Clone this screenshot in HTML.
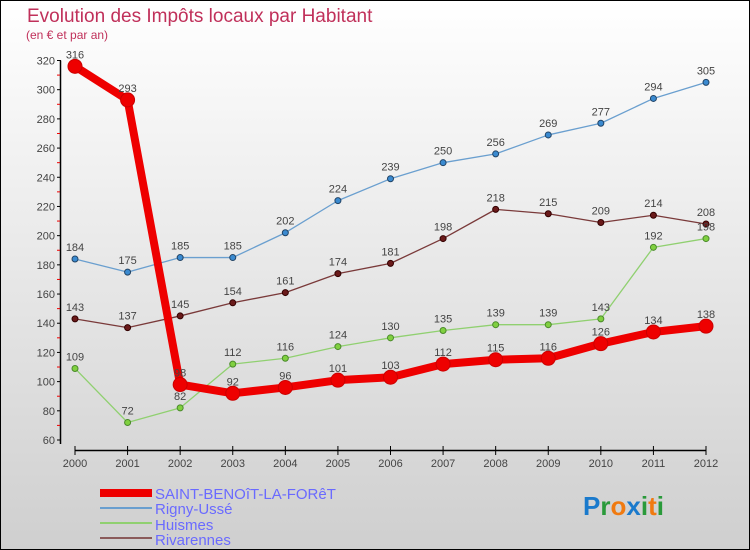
<!DOCTYPE html>
<html><head><meta charset="utf-8"><style>
body{margin:0}
#c{width:750px;height:550px;position:relative;overflow:hidden;background:linear-gradient(#ffffff,#cfcfcf);box-sizing:border-box;border:1px solid #000;font-family:"Liberation Sans",sans-serif}
svg text{font-family:"Liberation Sans",sans-serif}
</style></head><body>
<div id="c">
<svg id="s" width="750" height="550" style="position:absolute;left:-1px;top:-1px">
<text x="27" y="22" font-size="19" fill="#c0305a">Evolution des Impôts locaux par Habitant</text>
<text x="26" y="39" font-size="12" fill="#c0305a">(en € et par an)</text>
<g id="axes"></g><g id="series"></g>
<g>
<rect x="100" y="489" width="52" height="8" fill="#e00"/>
<text x="155" y="499" font-size="15" fill="#6a6aff">SAINT-BENOîT-LA-FORêT</text>
<rect x="100" y="507" width="52" height="2" fill="#6a9fcf"/>
<text x="155" y="514" font-size="15" fill="#6a6aff">Rigny-Ussé</text>
<rect x="100" y="522" width="52" height="2" fill="#90d070"/>
<text x="155" y="530" font-size="15" fill="#6a6aff">Huismes</text>
<rect x="100" y="537" width="52" height="2" fill="#8a5a5a"/>
<text x="155" y="545" font-size="15" fill="#6a6aff">Rivarennes</text>
</g>
<g font-size="26" font-weight="bold">
<text x="583" y="515"><tspan fill="#1a7acc">P</tspan><tspan fill="#2a9a3a">r</tspan><tspan fill="#f07a10">o</tspan><tspan fill="#1a7acc">x</tspan><tspan fill="#2a9a3a">i</tspan><tspan fill="#f07a10">t</tspan><tspan fill="#2a9a3a">i</tspan></text>
</g>
</svg>
</div>
<script>
const years=[2000,2001,2002,2003,2004,2005,2006,2007,2008,2009,2010,2011,2012];
const yTicks=[60,80,100,120,140,160,180,200,220,240,260,280,300,320];
const saint=[316,293,98,92,96,101,103,112,115,116,126,134,138];
const rigny=[184,175,185,185,202,224,239,250,256,269,277,294,305];
const huismes=[109,72,82,112,116,124,130,135,139,139,143,192,198];
const rivarennes=[143,137,145,154,161,174,181,198,218,215,209,214,208];
const NS='http://www.w3.org/2000/svg';
function X(i){return 75+i*(706-75)/(years.length-1);}
function Y(v){return 440-(v-60)*(440-60.5)/260;}
function mk(t,a,p){const e=document.createElementNS(NS,t);for(const k in a)e.setAttribute(k,a[k]);p.appendChild(e);return e;}
const ax=document.getElementById('axes');
let l=mk('line',{x1:60.5,y1:Y(320),x2:60.5,y2:Y(60)+4,stroke:'#000','stroke-width':1.5},ax);


yTicks.forEach(v=>{
 mk('line',{x1:57,x2:61,y1:Y(v),y2:Y(v),stroke:'#000'},ax);
 if(v<320)mk('line',{x1:57,x2:60,y1:Y(v+10),y2:Y(v+10),stroke:'#e00'},ax);
 const t=mk('text',{x:55,y:Y(v)+4,'font-size':11,fill:'#444','text-anchor':'end'},ax);t.textContent=v;
 
 
});
l=mk('line',{x1:75,y1:450.5,x2:706,y2:450.5,stroke:'#000','stroke-width':1.5},ax);


years.forEach((y,i)=>{
 mk('line',{x1:X(i),x2:X(i),y1:446,y2:455,stroke:'#000'},ax);
 const t=mk('text',{x:X(i),y:467,'font-size':11,fill:'#444','text-anchor':'middle'},ax);t.textContent=y;
 
 
});
const sg=document.getElementById('series');
function draw(d,name,col,w,r,fill,stroke){
 const g=mk('g',{},sg);
 
 
 const p=mk('polyline',{points:d.map((v,i)=>X(i)+','+Y(v)).join(' '),fill:'none',stroke:col,'stroke-width':w,'stroke-linejoin':'round'},g);
 
 
 d.forEach((v,i)=>{
  const c=mk('circle',{cx:X(i),cy:Y(v),r:r,fill:fill,stroke:stroke,'stroke-width':1},g);
  
  
  const t=mk('text',{x:X(i),y:Y(v)-8,'font-size':11,fill:'#444','text-anchor':'middle'},g);t.textContent=v;
  
  
 });
}
draw(rigny,'rigny','#6a9fcf',1.3,3,'#3a8ad0','#246');
draw(rivarennes,'rivarennes','#7a3a3a',1.3,3,'#6a1a1a','#300');
draw(huismes,'huismes','#90d070',1.3,3,'#80d040','#4a8a2a');
draw(saint,'saint-benoit','#e00',8,7,'#e00','#c00');
</script>
</body></html>
